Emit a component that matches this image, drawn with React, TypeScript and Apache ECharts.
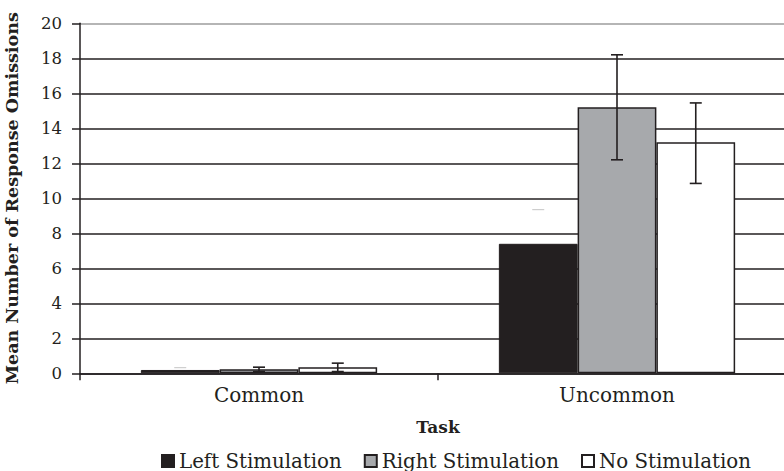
import React, { useEffect, useRef } from "react";
import * as echarts from "echarts";

const categories = ["Common", "Uncommon"];
const seriesNames = ["Left Stimulation", "Right Stimulation", "No Stimulation"];
const leftValues = [0.19, 7.4];
const rightValues = [0.23, 15.2];
const noneValues = [0.35, 13.2];
const leftErrHigh = [0.32, 9.35];
const rightErrLow = [0.1, 12.2];
const rightErrHigh = [0.35, 18.2];
const noneErrLow = [0.1, 10.85];
const noneErrHigh = [0.58, 15.45];
const yTicks = [0, 2, 4, 6, 8, 10, 12, 14, 16, 18, 20];

const INK = "#231f20";
const FONT = "DejaVu Serif";
const BAR_FRAC = 0.22;

function errSeries(name: string, lows: number[], highs: number[], offset: number, faint: boolean) {
  return {
    type: "custom",
    name,
    z: 5,
    data: categories.map((_, i) => [i, lows[i], highs[i]]),
    renderItem: (params: any, api: any) => {
      const cat = api.value(0);
      const lo = api.value(1);
      const hi = api.value(2);
      const c = api.coord([cat, 0]);
      const catW = api.size([1, 0])[0];
      const bw = catW * BAR_FRAC;
      const x = c[0] + offset * bw;
      const yLo = api.coord([cat, lo])[1];
      const yHi = api.coord([cat, hi])[1];
      const half = 6;
      if (faint) {
        return {
          type: "line",
          shape: { x1: x - half, y1: yHi, x2: x + half, y2: yHi },
          style: { stroke: "#c4c4c4", lineWidth: 1 },
        };
      }
      const st = { stroke: INK, lineWidth: 1.6 };
      return {
        type: "group",
        children: [
          { type: "line", shape: { x1: x, y1: yLo, x2: x, y2: yHi }, style: st },
          { type: "line", shape: { x1: x - half, y1: yLo, x2: x + half, y2: yLo }, style: st },
          { type: "line", shape: { x1: x - half, y1: yHi, x2: x + half, y2: yHi }, style: st },
        ],
      };
    },
  };
}

export default function App() {
  const ref = useRef<HTMLDivElement>(null);
  useEffect(() => {
    if (!ref.current) return;
    const chart = echarts.init(ref.current, undefined, { renderer: "svg" });
    const splitColors = yTicks.map((_, i) => (i === yTicks.length - 1 ? "#9d9d9d" : INK));
    chart.setOption({
      animation: false,
      backgroundColor: "#ffffff",
      textStyle: { fontFamily: FONT, color: INK },
      grid: {
        left: 80,
        width: 716,
        top: 23.3,
        height: 350,
        containLabel: false,
        outerBoundsMode: "none",
      },
      legend: {
        data: seriesNames,
        left: 156,
        top: 446,
        itemWidth: 12,
        itemHeight: 12,
        itemGap: 22,
        icon: "rect",
        textStyle: { fontFamily: FONT, fontSize: 19.8, color: INK, padding: [0, 0, 0, 0] },
      },
      xAxis: {
        type: "category",
        data: categories,
        name: "Task",
        nameLocation: "middle",
        nameGap: 45,
        nameTextStyle: { fontFamily: FONT, fontSize: 17, fontWeight: "bold", color: INK },
        axisLine: { lineStyle: { color: INK, width: 1.5 } },
        axisTick: { show: true, length: 7, lineStyle: { color: INK, width: 1.5 } },
        axisLabel: { fontFamily: FONT, fontSize: 20, color: INK, margin: 12 },
      },
      yAxis: {
        type: "value",
        min: 0,
        max: 20,
        interval: 2,
        name: "Mean Number of Response Omissions",
        nameLocation: "middle",
        nameGap: 59,
        nameTextStyle: { fontFamily: FONT, fontSize: 17.5, fontWeight: "bold", color: INK },
        axisLine: { show: true, lineStyle: { color: INK, width: 1.5 } },
        axisTick: { show: true, length: 8, lineStyle: { color: INK, width: 1.5 } },
        axisLabel: { fontFamily: FONT, fontSize: 16.5, color: INK, margin: 18 },
        splitLine: { show: true, lineStyle: { color: splitColors, width: 1.5 } },
      },
      series: [
        {
          type: "bar",
          name: seriesNames[0],
          data: leftValues,
          barWidth: BAR_FRAC * 100 + "%",
          barGap: "0%",
          itemStyle: { color: INK, borderColor: INK, borderWidth: 1 },
        },
        {
          type: "bar",
          name: seriesNames[1],
          data: rightValues,
          barWidth: BAR_FRAC * 100 + "%",
          barGap: "0%",
          itemStyle: { color: "#a7a9ac", borderColor: INK, borderWidth: 1.5 },
        },
        {
          type: "bar",
          name: seriesNames[2],
          data: noneValues,
          barWidth: BAR_FRAC * 100 + "%",
          barGap: "0%",
          itemStyle: { color: "#ffffff", borderColor: INK, borderWidth: 1.5 },
        },
        errSeries("errLeft", leftErrHigh, leftErrHigh, -1, true),
        errSeries("errRight", rightErrLow, rightErrHigh, 0, false),
        errSeries("errNone", noneErrLow, noneErrHigh, 1, false),
      ],
    });
    return () => chart.dispose();
  }, []);
  return (
    <div
      ref={ref}
      style={{ position: "absolute", left: 0, top: 0, width: 784, height: 471 }}
    />
  );
}
